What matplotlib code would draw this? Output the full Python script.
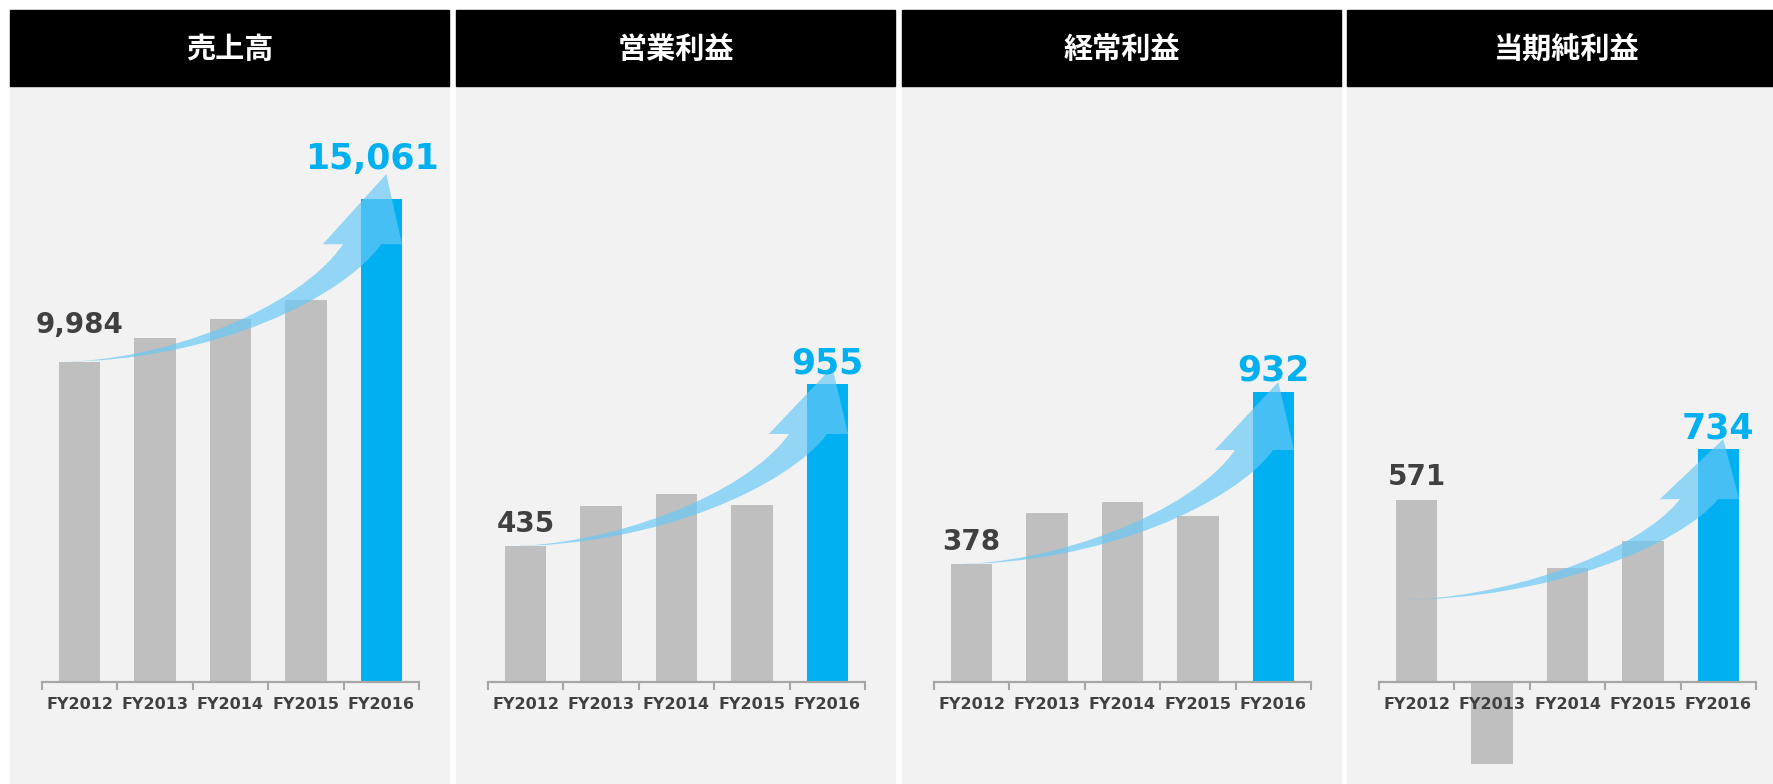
import matplotlib
matplotlib.use('Agg')
import matplotlib.pyplot as plt
from matplotlib.patches import Rectangle, PathPatch
from matplotlib.path import Path

plt.rcParams['font.family'] = ['DejaVu Sans', 'Noto Sans CJK JP']

# data
years = ['FY2012', 'FY2013', 'FY2014', 'FY2015', 'FY2016']
titles = ['売上高', '営業利益', '経常利益', '当期純利益']
sales = [9984, 10725, 11325, 11925, 15061]
op_income = [435, 565, 602, 569, 955]
ord_income = [378, 542, 577, 534, 932]
net_income = [571, -258, 357, 443, 734]
series = [sales, op_income, ord_income, net_income]

# where the growth arrow starts / where its head sits (value units)
arrow_start = [9984, 435, 378, 258]
arrow_end = [13650, 795, 745, 575]

# layout (pixels)
W, H = 1773, 784
units_per_px = [31.18, 3.206, 3.212, 3.145]
panel_left = [10, 456, 902, 1347]
panel_w = 439
zero_px = 102          # zero line, px from bottom
ax_top = 90            # axes top, px from top
grey_off = [29, 14.5, 14.5, 15]
blue_off = [30, 11, 11, 10.5]
blue_dx = [-9, 0, 0, 0]

GREY = '#BFBFBF'
BLUE = '#00B0F0'
TXT = '#404040'
AXC = '#A6A6A6'

fig = plt.figure(figsize=(W / 100, H / 100), dpi=100)
fig.patch.set_facecolor('white')


def arrow_path(xs, xe, ys, ye):
    # normalised shape of the curved arrow, mapped onto the data range
    pts = [(0, 0), (0.30, 0.0), (0.70, 0.45), (0.828, 1.0),
           (0.769, 1.0), (0.954, 1.596), (1.0, 1.0), (0.939, 1.0),
           (0.83, 0.55), (0.45, 0.0), (0, 0), (0, 0)]
    codes = [Path.MOVETO, Path.CURVE4, Path.CURVE4, Path.CURVE4,
             Path.LINETO, Path.LINETO, Path.LINETO, Path.LINETO,
             Path.CURVE4, Path.CURVE4, Path.CURVE4, Path.CLOSEPOLY]
    verts = [(xs + u * (xe - xs), ys + v * (ye - ys)) for u, v in pts]
    return Path(verts, codes)


bw = 0.55
for i in range(4):
    pl = panel_left[i]
    # panel body + header
    fig.add_artist(Rectangle((pl / W, 0), panel_w / W, (H - 86) / H,
                             transform=fig.transFigure, color='#F2F2F2', zorder=0))
    fig.add_artist(Rectangle((pl / W, (H - 86) / H), panel_w / W, 76 / H,
                             transform=fig.transFigure, color='black', zorder=0))
    fig.text((pl + panel_w / 2) / W, (H - 49) / H, titles[i], color='white',
             fontsize=21, fontweight='bold', family='Noto Sans CJK JP',
             ha='center', va='center')

    s = units_per_px[i]
    ax = fig.add_axes([(pl + 32) / W, 0, 377 / W, (H - ax_top) / H])
    ax.patch.set_alpha(0)
    vals = series[i]
    x = list(range(len(years)))
    colors = [GREY] * 4 + [BLUE]
    ax.bar(x, vals, width=bw, color=colors, zorder=1)
    ax.set_xlim(-0.5, 4.5)
    ax.set_ylim(-zero_px * s, (H - ax_top - zero_px) * s)

    for sp in ['left', 'right', 'top']:
        ax.spines[sp].set_visible(False)
    ax.spines['bottom'].set_position(('data', 0))
    ax.spines['bottom'].set_color(AXC)
    ax.spines['bottom'].set_linewidth(1.6)
    ax.set_yticks([])
    ax.set_xticks([k - 0.5 for k in range(6)])
    ax.set_xticklabels([])
    ax.tick_params(axis='x', which='major', length=6, width=1.5, color=AXC)
    ax.set_xticks(x, minor=True)
    ax.set_xticklabels(years, minor=True, fontsize=11.5, fontweight='bold', color=TXT)
    ax.tick_params(axis='x', which='minor', length=0, pad=11)
    ax.xaxis.set_zorder(1.5)

    # curved growth arrow
    ax.add_patch(PathPatch(arrow_path(-bw / 2, 4 + bw / 2, arrow_start[i], arrow_end[i]),
                           facecolor='#67C8F6', edgecolor='none', alpha=0.69, zorder=3))

    ax.annotate(f'{vals[0]:,}', xy=(0, vals[0]), xytext=(0, grey_off[i]),
                textcoords='offset pixels', ha='center', va='baseline',
                fontsize=20, fontweight='bold', color=TXT, zorder=5)
    ax.annotate(f'{vals[4]:,}', xy=(4, vals[4]), xytext=(blue_dx[i], blue_off[i]),
                textcoords='offset pixels', ha='center', va='baseline',
                fontsize=25, fontweight='bold', color=BLUE, zorder=5)

fig.savefig('out.png', dpi=100, facecolor='white')
